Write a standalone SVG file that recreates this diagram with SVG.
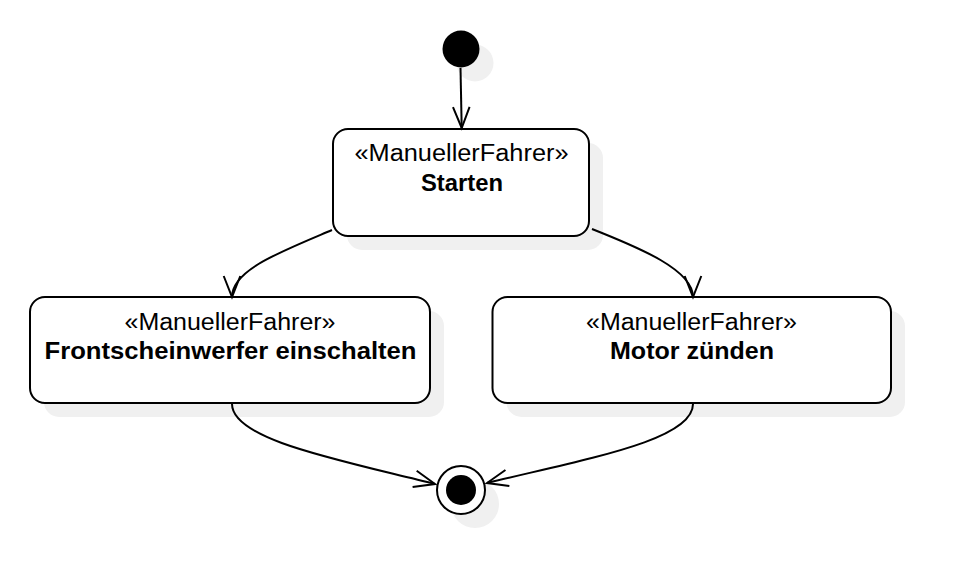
<svg xmlns="http://www.w3.org/2000/svg" width="962" height="586" viewBox="0 0 962 586">
  <style>
    .box { fill: #ffffff; stroke: #000000; stroke-width: 2; }
    .shadow { fill: #f0f0f0; stroke: none; }
    .st { font-family: "Liberation Sans", Arial, sans-serif; font-size: 23px; text-anchor: middle; fill: #000000; }
    .nm { font-family: "Liberation Sans", Arial, sans-serif; font-size: 23px; font-weight: bold; text-anchor: middle; fill: #000000; }
    .edge { fill: none; stroke: #000000; stroke-width: 2; marker-end: url(#open); }
  </style>
  <defs>
    <marker id="open" markerUnits="userSpaceOnUse" markerWidth="40" markerHeight="40" refX="0" refY="0" orient="auto" overflow="visible">
      <path d="M-21,-8.3 L0,0 L-21,8.3" fill="none" stroke="#000000" stroke-width="2"/>
    </marker>
  </defs>
  <rect width="962" height="586" fill="#ffffff"/>

  <g id="initial">
    <circle class="shadow" cx="475" cy="63" r="18.5"/>
    <circle cx="461" cy="49" r="18.5" fill="#000000"/>
  </g>

  <g id="starten">
    <rect class="shadow" x="347" y="143" width="256" height="107" rx="15" ry="15"/>
    <rect class="box" x="333" y="129" width="256" height="107" rx="15" ry="15"/>
    <text class="st" x="461.5" y="161" textLength="214" lengthAdjust="spacingAndGlyphs">«ManuellerFahrer»</text>
    <text class="nm" x="462" y="190.5" textLength="82" lengthAdjust="spacingAndGlyphs">Starten</text>
  </g>

  <g id="frontscheinwerfer">
    <rect class="shadow" x="44" y="311" width="400" height="106" rx="15" ry="15"/>
    <rect class="box" x="30" y="297" width="400" height="106" rx="15" ry="15"/>
    <text class="st" x="230" y="329.5" textLength="211" lengthAdjust="spacingAndGlyphs">«ManuellerFahrer»</text>
    <text class="nm" x="230.5" y="359" textLength="372" lengthAdjust="spacingAndGlyphs">Frontscheinwerfer einschalten</text>
  </g>

  <g id="motor">
    <rect class="shadow" x="506.5" y="311" width="398.5" height="106" rx="15" ry="15"/>
    <rect class="box" x="492.5" y="297" width="398.5" height="106" rx="15" ry="15"/>
    <text class="st" x="691.5" y="329.5" textLength="211" lengthAdjust="spacingAndGlyphs">«ManuellerFahrer»</text>
    <text class="nm" x="692" y="359" textLength="164" lengthAdjust="spacingAndGlyphs">Motor zünden</text>
  </g>

  <g id="final">
    <circle class="shadow" cx="475" cy="504" r="24"/>
    <circle cx="461" cy="490" r="24" fill="#ffffff" stroke="#000000" stroke-width="2"/>
    <circle cx="461" cy="490" r="15" fill="#000000"/>
  </g>

  <g id="connectors">
    <path class="edge" d="M460.5,68 L461.7,128"/>
    <path class="edge" d="M332,230 C280,252 232,270 232,297"/>
    <path class="edge" d="M592,229 C640,248 693,270 693,297"/>
    <path class="edge" d="M232,404 C232,440 340,460 435,484"/>
    <path class="edge" d="M693,404 C693,440 590,458 487,483"/>
  </g>
</svg>
